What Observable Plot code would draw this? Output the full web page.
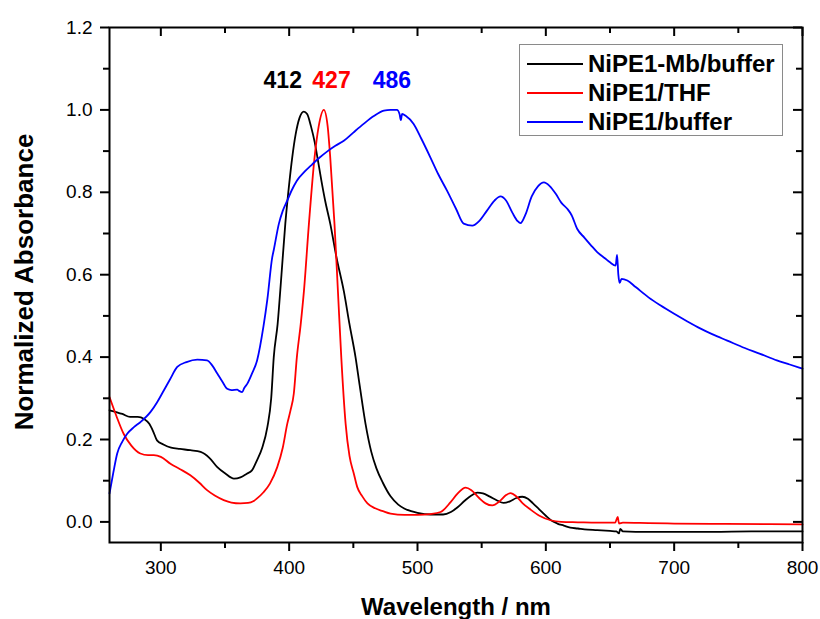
<!DOCTYPE html>
<html>
<head>
<meta charset="utf-8">
<script src="https://cdn.jsdelivr.net/npm/d3@7"></script>
<script src="https://cdn.jsdelivr.net/npm/@observablehq/plot@0.6"></script>
<style>
  html, body { margin: 0; padding: 0; background: #fff; }
  #wrap { position: relative; width: 820px; height: 619px; font-family: "Liberation Sans", Arial, sans-serif; }
  #legend { position: absolute; left: 519px; top: 44px; width: 264px; height: 92px; border: 1px solid #8a8a8a; background: #fff; box-sizing: border-box; padding-top: 4px; }
  .row { height: 29px; display: flex; align-items: center; }
  .row svg { margin-left: 7px; margin-right: 5px; }
  .row span { font-weight: bold; font-size: 24px; color: #000; white-space: nowrap; }
</style>
</head>
<body>
<div id="wrap"><div id="legend"></div></div>
<script>
// ---- data ----
const seriesNames = ["NiPE1-Mb/buffer", "NiPE1/THF", "NiPE1/buffer"];

const wlMb = [260,270,276,282,287,291,294,297,302,308,315,323,331,338,344,350,357,362,367,371,375,379,383,386,388,391,394,397,400,402.4,405,408,411.4,414,417,420,422,425,428,432,437,442.6,447,451.7,455,459.5,464,468,473,479,485,490,495,500,510,520,526,531,537,542,546.6,551,556,562,567,572,577,581.7,586,590,595,600,604,609,614,619,625,630,640,650,655,657,658,660,670,682,700,730,760,800];
const absMb = [0.271,0.262,0.255,0.255,0.25,0.238,0.22,0.198,0.188,0.18,0.177,0.174,0.17,0.155,0.133,0.118,0.105,0.108,0.117,0.125,0.15,0.18,0.23,0.3,0.4,0.48,0.6,0.724,0.82,0.885,0.94,0.98,0.996,0.99,0.96,0.92,0.885,0.83,0.78,0.724,0.64,0.56,0.48,0.40,0.33,0.238,0.17,0.13,0.095,0.062,0.042,0.032,0.026,0.022,0.018,0.018,0.024,0.035,0.052,0.064,0.071,0.069,0.062,0.052,0.046,0.05,0.058,0.061,0.056,0.045,0.03,0.015,0.004,-0.004,-0.009,-0.014,-0.016,-0.018,-0.02,-0.022,-0.023,-0.028,-0.017,-0.023,-0.024,-0.024,-0.024,-0.024,-0.023,-0.023];

const wlTHF = [260,265,271,277,284,290,294.5,300,307.5,315,323,330,336,342,349,355,362,368,372,375,380,385,390.7,395,398.5,401,403.6,406,409,411.5,415.4,419.8,423,427,430,432,435.3,438,440.6,444,447,450.4,453,457,461,467,473,479,490,500,510,518,525.8,531,537.5,542,548,553,558.3,564,569,572.5,577,582,588,595,603.7,612,625,640,654,656,657,660,680,700,740,800];
const absTHF = [0.303,0.26,0.214,0.185,0.166,0.162,0.162,0.158,0.141,0.128,0.113,0.095,0.077,0.064,0.053,0.047,0.045,0.046,0.05,0.057,0.072,0.093,0.133,0.18,0.238,0.27,0.311,0.40,0.48,0.56,0.724,0.885,0.96,1.0,0.96,0.885,0.724,0.56,0.40,0.238,0.16,0.117,0.085,0.062,0.045,0.033,0.026,0.02,0.017,0.017,0.019,0.024,0.048,0.068,0.083,0.077,0.058,0.045,0.04,0.05,0.065,0.07,0.062,0.045,0.03,0.015,0.004,0.0,-0.001,-0.002,-0.002,0.012,-0.004,-0.002,-0.003,-0.004,-0.005,-0.006];

const wlBuf = [260,263,266,270,273.8,279,284,292,297,302.3,307,312.8,320,328.4,336,340,344,348,351.7,355,359.5,361,363.4,365,367.3,371,375,380,383,386.8,388,392,395,398.5,402,406,412,418,424,430,436,442.6,450,458,466,473.8,479,484,486,487,488,491,497,503,510,516,523,530,536,542.7,548,554,560,564.7,569,574,578,580.3,584,589,594,598.5,603,608,612,616.7,620,624.5,630,635,640,646,650,654.4,655.5,656.5,657.5,659,663.5,670,680,689.5,700,710,720.6,730,741.4,755,767,780,790,800];
const absBuf = [0.069,0.12,0.166,0.195,0.214,0.23,0.242,0.267,0.29,0.319,0.345,0.376,0.388,0.394,0.392,0.38,0.36,0.34,0.323,0.32,0.321,0.318,0.315,0.325,0.335,0.36,0.392,0.475,0.54,0.642,0.66,0.724,0.755,0.78,0.805,0.828,0.85,0.868,0.885,0.9,0.913,0.925,0.945,0.966,0.985,0.998,1.0,1.0,0.99,0.975,0.99,0.985,0.966,0.93,0.885,0.845,0.804,0.76,0.724,0.719,0.73,0.755,0.78,0.79,0.78,0.75,0.73,0.725,0.745,0.79,0.815,0.824,0.815,0.795,0.775,0.76,0.745,0.711,0.69,0.672,0.655,0.64,0.63,0.622,0.648,0.6,0.58,0.59,0.586,0.57,0.545,0.525,0.505,0.487,0.469,0.455,0.44,0.422,0.408,0.392,0.382,0.372];

const xMajor = [300, 400, 500, 600, 700, 800];
const xMinor = [350, 450, 550, 650, 750];
const yMajor = [0, 0.2, 0.4, 0.6, 0.8, 1.0, 1.2];
const yMinor = [0.1, 0.3, 0.5, 0.7, 0.9, 1.1];

const peakLabels = ["412", "427", "486"];
const peakLabelX = [395, 433, 480];
const peakLabelY = [1.07, 1.07, 1.07];
const peakSeries = ["NiPE1-Mb/buffer", "NiPE1/THF", "NiPE1/buffer"];

// ---- build table ----
const rows = [];
[[wlMb, absMb], [wlTHF, absTHF], [wlBuf, absBuf]].forEach(([w, a], i) => {
  w.forEach((x, j) => rows.push({s: seriesNames[i], wl: x, a: a[j]}));
});
const peaks = peakLabels.map((t, i) => ({t, x: peakLabelX[i], y: peakLabelY[i], s: peakSeries[i]}));

const colors = ["#000000", "#ff0000", "#0000ff"];
const W = 820, H = 619, mL = 109, mR = 18, mT = 27, mB = 77;
const pw = W - mL - mR, ph = H - mT - mB;

const chart = Plot.plot({
  width: W, height: H,
  marginLeft: mL, marginRight: mR, marginTop: mT, marginBottom: mB,
  style: {fontFamily: "'Liberation Sans', Arial, sans-serif", background: "#fff", color: "#000", overflow: "visible"},
  x: {domain: [260, 800]},
  y: {domain: [-0.05, 1.2]},
  color: {domain: seriesNames, range: colors},
  marks: [
    Plot.line(rows, {x: "wl", y: "a", z: "s", stroke: "s", strokeWidth: 1.8, curve: "monotone-x"}),
    Plot.text(peaks, {x: "x", y: "y", text: "t", fill: "s", fontSize: 23, fontWeight: "bold"}),
    // bottom / left outward ticks + labels
    Plot.axisX({ticks: xMajor, tickSize: 9, tickPadding: 9, fontSize: 19, tickFormat: d => String(d), label: null, strokeWidth: 2}),
    Plot.axisX({ticks: xMinor, tickSize: 6, tickFormat: () => "", label: null, strokeWidth: 2}),
    Plot.axisY({ticks: yMajor, tickSize: 9, tickPadding: 8, fontSize: 19, tickFormat: d => d.toFixed(1), label: null, strokeWidth: 2}),
    Plot.axisY({ticks: yMinor, tickSize: 6, tickFormat: () => "", label: null, strokeWidth: 2}),
    // top / right inward mirror ticks
    Plot.tickX(xMajor, {x: d => d, insetBottom: ph - 9, strokeWidth: 2}),
    Plot.tickX(xMinor, {x: d => d, insetBottom: ph - 6, strokeWidth: 2}),
    Plot.tickY(yMajor, {y: d => d, insetLeft: pw - 9, strokeWidth: 2}),
    Plot.tickY(yMinor, {y: d => d, insetLeft: pw - 6, strokeWidth: 2}),
    Plot.frame({stroke: "#000", strokeWidth: 2}),
    // axis titles
    Plot.text(["Wavelength / nm"], {frameAnchor: "bottom", dy: 65, text: d => d, fontSize: 24, fontWeight: "bold", lineAnchor: "middle", textAnchor: "middle"}),
    Plot.text(["Normalized Absorbance"], {frameAnchor: "left", dx: -85, dy: -3, rotate: -90, text: d => d, fontSize: 26, fontWeight: "bold", lineAnchor: "middle", textAnchor: "middle"})
  ]
});
const wrap = document.getElementById("wrap");
wrap.insertBefore(chart, wrap.firstChild);

// legend
const legend = document.getElementById("legend");
seriesNames.forEach((name, i) => {
  const row = document.createElement("div");
  row.className = "row";
  row.innerHTML = `<svg width="56" height="4"><line x1="0" y1="2" x2="56" y2="2" stroke="${colors[i]}" stroke-width="2"/></svg><span>${name}</span>`;
  legend.appendChild(row);
});
</script>
</body>
</html>
